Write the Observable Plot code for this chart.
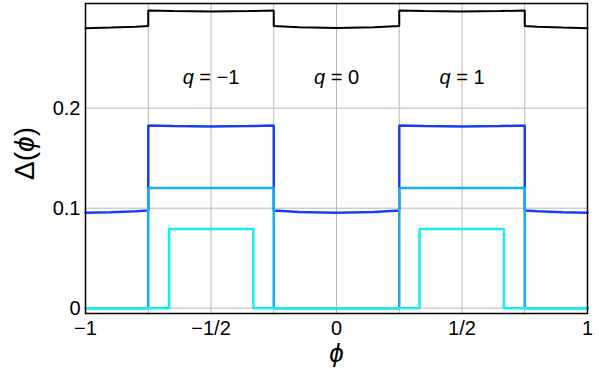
<!DOCTYPE html>
<html>
<head>
<meta charset="utf-8">
<script src="https://cdn.jsdelivr.net/npm/d3@7"></script>
<script src="https://cdn.jsdelivr.net/npm/@observablehq/plot@0.6"></script>
<style>
  html, body { margin: 0; padding: 0; background: #fff; }
  #chart { width: 599px; height: 375px; }
</style>
</head>
<body>
<div id="chart"></div>
<script>
// ---- data ----
const phiSmooth = [-1, -0.9, -0.8, -0.75, -0.75, -0.65, -0.5, -0.35, -0.25, -0.25, -0.15, 0, 0.15, 0.25, 0.25, 0.35, 0.5, 0.65, 0.75, 0.75, 0.8, 0.9, 1];
const blackDelta = [0.2800, 0.2806, 0.2815, 0.2822, 0.2977, 0.2971, 0.2967, 0.2971, 0.2977, 0.2822, 0.2810, 0.2802, 0.2810, 0.2822, 0.2977, 0.2971, 0.2967, 0.2971, 0.2977, 0.2822, 0.2815, 0.2806, 0.2800];
const blueDelta = [0.0954, 0.0960, 0.0970, 0.0977, 0.1827, 0.1821, 0.1818, 0.1821, 0.1827, 0.0977, 0.0963, 0.0955, 0.0963, 0.0977, 0.1827, 0.1821, 0.1818, 0.1821, 0.1827, 0.0977, 0.0970, 0.0960, 0.0954];
const phiMid = [-1, -0.75, -0.75, -0.25, -0.25, 0.25, 0.25, 0.75, 0.75, 1];
const midDelta = [0, 0, 0.1203, 0.1203, 0, 0, 0.1203, 0.1203, 0, 0];
const phiCyan = [-1, -0.667, -0.667, -0.331, -0.331, 0.331, 0.331, 0.667, 0.667, 1];
const cyanDelta = [0, 0, 0.0793, 0.0793, 0, 0, 0.0793, 0.0793, 0, 0];

const xTicks = [-1, -0.5, 0, 0.5, 1];
const xTickLabels = ["\u22121", "\u22121/2", "0", "1/2", "1"];
const yTicks = [0, 0.1, 0.2];
const yTickLabels = ["0", "0.1", "0.2"];
const xGrid = [-0.75, -0.5, -0.25, 0, 0.25, 0.5, 0.75];
const qPhi = [-0.5, 0, 0.5];
const qLabels = ["q = \u22121", "q = 0", "q = 1"];
const qDelta = 0.2305;

const colors = { black: "#000000", blue: "#1a3ff2", mid: "#16aef2", cyan: "#14eef0" };

const toPts = (xs, ys) => xs.map((x, i) => ({x, y: ys[i]}));
const FONT = "'Liberation Sans', Arial, Helvetica, sans-serif";

const chart = Plot.plot({
  width: 599,
  height: 375,
  marginLeft: 85,
  marginRight: 12,
  marginTop: 3,
  marginBottom: 62,
  style: { fontFamily: FONT, fontSize: "20px", background: "white", color: "black" },
  x: { domain: [-1, 1] },
  y: { domain: [-0.0053, 0.3047] },
  marks: [
    Plot.gridX(xGrid, { stroke: "#b8b8b8", strokeOpacity: 1, strokeWidth: 1 }),
    Plot.gridY(yTicks, { stroke: "#b8b8b8", strokeOpacity: 1, strokeWidth: 1 }),
    Plot.axisX(xTicks, { tickSize: 0, tickPadding: 7, tickFormat: (d, i) => xTickLabels[i], label: null, fontSize: 20 }),
    Plot.axisY(yTicks, { tickSize: 0, tickPadding: 5, tickFormat: (d, i) => yTickLabels[i], label: null, fontSize: 20 }),
    Plot.line(toPts(phiSmooth, blackDelta), { x: "x", y: "y", stroke: colors.black, strokeWidth: 2, strokeLinejoin: "miter" }),
    Plot.line(toPts(phiSmooth, blueDelta), { x: "x", y: "y", stroke: colors.blue, strokeWidth: 2.5, strokeLinejoin: "miter" }),
    Plot.line(toPts(phiMid, midDelta), { x: "x", y: "y", stroke: colors.mid, strokeWidth: 2.5, strokeLinejoin: "miter" }),
    Plot.line(toPts(phiCyan, cyanDelta), { x: "x", y: "y", stroke: colors.cyan, strokeWidth: 2.5, strokeLinejoin: "miter" }),
    Plot.text(qLabels, { x: (d, i) => qPhi[i], y: () => qDelta, text: d => d, fontSize: 20, fill: "black", className: "qlab" }),
    Plot.frame({ stroke: "black", strokeWidth: 1.5 }),
    Plot.text(["\u0394(\u03d5)"], { frameAnchor: "left", textAnchor: "middle", dx: -60, dy: -5, rotate: -90, fontSize: 28, fill: "black", className: "ylab" }),
    Plot.text(["\u03d5"], { frameAnchor: "bottom", textAnchor: "middle", dy: 48, fontSize: 26, fontStyle: "italic", fill: "black" })
  ]
});

document.getElementById("chart").appendChild(chart);

// italicize the variable letters using tspans (text stays real text)
d3.select(chart).selectAll("g.qlab text").each(function() {
  const t = this.textContent;
  const sel = d3.select(this);
  sel.text(null);
  sel.append("tspan").attr("font-style", "italic").text(t.slice(0, 1));
  sel.append("tspan").text(t.slice(1));
});
d3.select(chart).selectAll("g.ylab text").each(function() {
  const sel = d3.select(this);
  sel.text(null);
  sel.append("tspan").text("\u0394(");
  sel.append("tspan").attr("font-style", "italic").text("\u03d5");
  sel.append("tspan").text(")");
});
</script>
</body>
</html>
